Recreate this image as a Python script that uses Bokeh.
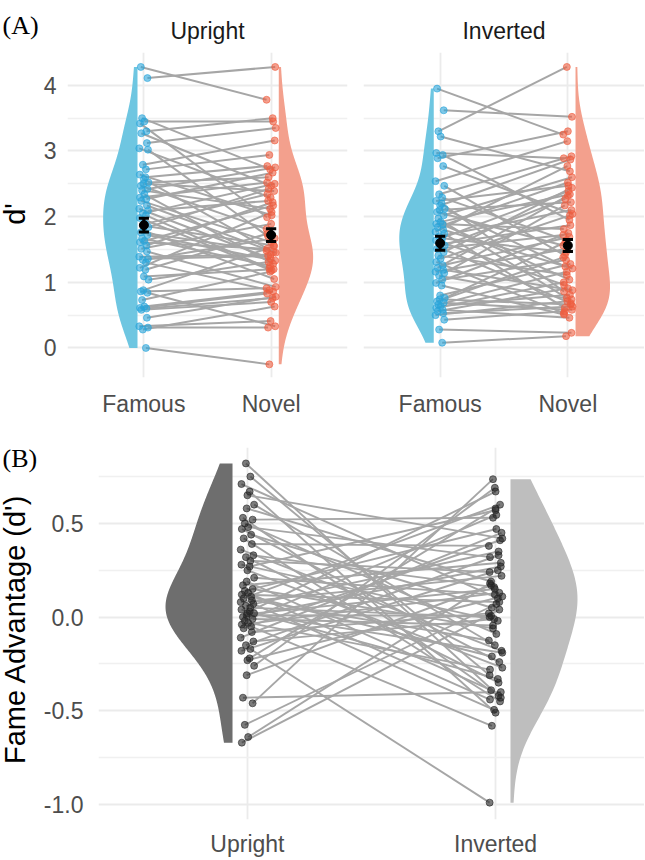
import numpy as np
from bokeh.plotting import figure
from bokeh.layouts import column, row
from bokeh.models import FixedTicker, NumeralTickFormatter, Range1d
from bokeh.core.properties import value
from bokeh.embed import file_html
from bokeh.resources import INLINE

# ---------------- data ----------------
A_CATS = ["Famous", "Novel"]
B_CATS = ["Upright", "Inverted"]
FACETS = ["Upright", "Inverted"]
A_YLABEL = "d'"
B_YLABEL = "Fame Advantage (d')"
TAGS = ["(A)", "(B)"]

UP_FAMOUS = [4.28, 4.11, 3.50, 3.45, 3.42, 3.30, 3.27, 3.12, 3.04, 3.02, 2.79, 2.72, 2.64, 2.60, 2.57, 2.52,
             2.50, 2.47, 2.42, 2.40, 2.34, 2.29, 2.27, 2.24, 2.17, 2.12, 2.09, 2.05, 2.02, 1.98, 1.89, 1.86,
             1.84, 1.79, 1.76, 1.72, 1.67, 1.63, 1.61, 1.56, 1.51, 1.47, 1.39, 1.36, 1.34, 1.30, 1.22, 1.19,
             1.09, 1.04, 0.88, 0.86, 0.84, 0.73, 0.63, 0.61, 0.60, 0.58, 0.46, 0.33, 0.31, 0.28, 0.00]
UP_NOVEL = [3.78, 4.28, 2.72, 3.45, 1.99, 3.50, 2.47, 3.35, 2.29, 1.70, 3.16, 2.94, 2.02, 2.77, 1.46, 2.60,
            2.39, 1.81, 2.75, 2.12, 1.28, 2.52, 2.67, 1.61, 1.45, 1.36, 2.24, 2.50, 1.21, 1.18, 2.34, 1.56,
            2.42, 1.05, 1.48, 1.33, 1.25, 2.17, 1.51, 2.22, 1.89, 0.93, 1.42, 1.40, 1.67, 0.88, 2.07, 1.74,
            1.20, 1.31, 1.55, 0.91, 0.33, 1.16, 0.86, 0.83, 0.76, 0.70, 0.78, 0.41, 0.31, 0.63, -0.25]
INV_FAMOUS = [3.95, 3.62, 3.30, 3.22, 2.97, 2.94, 2.89, 2.77, 2.54, 2.47, 2.34, 2.29, 2.24, 2.20, 2.17, 2.12,
              2.10, 2.07, 2.02, 1.97, 1.92, 1.89, 1.88, 1.84, 1.80, 1.77, 1.74, 1.70, 1.67, 1.64, 1.61, 1.58,
              1.56, 1.53, 1.51, 1.46, 1.41, 1.36, 1.31, 1.26, 1.22, 1.19, 1.16, 1.14, 1.10, 1.04, 0.99, 0.95,
              0.80, 0.76, 0.74, 0.71, 0.69, 0.66, 0.64, 0.61, 0.58, 0.56, 0.53, 0.50, 0.43, 0.28, 0.08]
INV_NOVEL = [3.25, 3.52, 4.28, 2.69, 2.89, 1.95, 3.30, 2.04, 3.15, 1.41, 2.92, 1.64, 2.47, 0.86, 2.87, 1.24,
             2.22, 1.56, 2.60, 0.76, 2.34, 1.81, 1.04, 2.52, 1.21, 2.77, 0.61, 2.10, 1.46, 2.39, 0.96, 1.87,
             2.27, 0.68, 1.72, 2.44, 1.11, 2.02, 0.53, 1.69, 2.32, 0.88, 1.51, 2.17, 0.74, 1.34, 1.75, 0.51,
             1.28, 1.61, 0.66, 1.38, 0.58, 1.16, 0.81, 1.00, 0.46, 0.91, 0.63, 0.71, 0.56, 0.23, 0.18]

ADV_UP = [0.82, 0.75, 0.71, 0.67, 0.65, 0.60, 0.58, 0.53, 0.52, 0.50, 0.48, 0.47, 0.44, 0.42, 0.39, 0.36,
          0.33, 0.32, 0.30, 0.28, 0.27, 0.25, 0.21, 0.19, 0.17, 0.15, 0.14, 0.13, 0.12, 0.11, 0.10, 0.09,
          0.08, 0.07, 0.06, 0.05, 0.04, 0.03, 0.02, 0.02, 0.01, 0.00, -0.01, -0.02, -0.03, -0.04, -0.05,
          -0.06, -0.08, -0.11, -0.13, -0.15, -0.17, -0.18, -0.22, -0.23, -0.26, -0.31, -0.43, -0.46,
          -0.575, -0.64, -0.67]
ADV_INV = [-0.42, -0.31, 0.10, -0.51, 0.42, -0.15, 0.19, -0.43, 0.53, -0.09, 0.32, -0.24, 0.05, -0.45,
           0.38, -0.18, 0.16, -0.35, 0.24, -0.02, 0.57, -0.27, 0.12, -0.39, 0.29, -0.06, 0.47, -0.44, 0.08,
           -0.21, 0.60, -0.125, 0.22, -0.495, 0.35, 0.00, -0.33, 0.67, -0.19, 0.15, 0.007, 0.27, -0.045,
           0.545, -0.28, 0.13, -0.58, 0.41, 0.02, 0.45, -0.01, 0.33, -0.99, 0.25, 0.58, 0.11, 0.69, 0.17,
           -0.40, 0.736, 0.07, 0.18, 0.04]

# mean +/- SE shown as black error bars (Famous, Novel)
UP_MEAN = [1.87, 1.72]
UP_SE = [0.105, 0.097]
INV_MEAN = [1.595, 1.56]
INV_SE = [0.105, 0.09]

A_YTICKS = [0, 1, 2, 3, 4]
A_YMINOR = [0.5, 1.5, 2.5, 3.5, 4.5]
B_YTICKS = [-1.0, -0.5, 0.0, 0.5]
B_YMINOR = [-0.75, -0.25, 0.25, 0.75]

# ---------------- style ----------------
FONT = "Liberation Sans"
SERIF = "Liberation Serif"
BLUE_V, BLUE_P = "#6EC6E1", "#2AA5DA"
RED_V, RED_P = "#F3A08D", "#EE5D40"
DARK_V, LIGHT_V, GREY_P = "#6E6E6E", "#BEBEBE", "#252525"
LINE_C = "#A6A6A6"
JIT = [-0.6, 0.5, -0.2, 0.9, 0.1, -0.9, 0.3, 0.7, -0.5, 0.4, -0.1, -0.75, 0.8, 0.0, -0.35, 0.6, -0.8]

A_XR = (0.4, 2.6)
A_YR = (-0.45, 4.5)
B_XR = (0.4, 2.6)
B_YR = (-1.08, 0.905)

TAG_W = 40
A_TOP, A_FRAME, A_BOT = 50, 327, 53
B_TOP, B_FRAME, B_BOT = 17, 375, 37


def jitter(n, amp, phase):
    return np.array([JIT[(i * 7 + phase) % len(JIT)] * amp for i in range(n)])


def half_violin(p, vals, center, side, offset, maxw, color, adjust=1.0):
    v = np.asarray(vals, dtype=float)
    n = len(v)
    sd = v.std(ddof=1)
    iqr = np.percentile(v, 75) - np.percentile(v, 25)
    bw = adjust * 0.9 * min(sd, iqr / 1.34) * n ** -0.2
    ys = np.linspace(v.min(), v.max(), 256)
    dens = np.exp(-0.5 * ((ys[:, None] - v[None, :]) / bw) ** 2).sum(axis=1)
    w = dens / dens.max() * maxw
    base = center + side * offset
    xs = np.concatenate([[base], base + side * w, [base]])
    yy = np.concatenate([[ys[0]], ys, [ys[-1]]])
    p.patch(xs, yy, fill_color=color, line_color=None)


def style(p, yticks, yminor, xlabels, show_y=True, yfmt=None):
    p.outline_line_color = None
    p.background_fill_color = "white"
    p.border_fill_color = "white"
    p.xaxis.ticker = FixedTicker(ticks=[1, 2])
    p.xaxis.major_label_overrides = {1: xlabels[0], 2: xlabels[1]}
    for ax in list(p.xaxis) + list(p.yaxis):
        ax.axis_line_color = None
        ax.major_tick_line_color = None
        ax.minor_tick_line_color = None
        ax.major_tick_out = 0
        ax.major_tick_in = 0
        ax.minor_tick_out = 0
        ax.minor_tick_in = 0
        ax.axis_label_standoff = 0
        ax.major_label_text_font = FONT
        ax.major_label_text_font_size = "23px"
        ax.major_label_text_color = "#4D4D4D"
    p.xaxis.major_label_standoff = 13
    yt = FixedTicker(ticks=yticks, minor_ticks=yminor)
    p.yaxis.ticker = yt
    p.ygrid.ticker = yt
    p.xgrid.ticker = FixedTicker(ticks=[1, 2])
    p.yaxis.major_label_standoff = 11
    if yfmt is not None:
        p.yaxis.formatter = yfmt
    if not show_y:
        p.yaxis.visible = False
    for g in (p.xgrid, p.ygrid):
        g.grid_line_color = "#EBEBEB"
        g.grid_line_width = 1.8
    p.ygrid.minor_grid_line_color = "#F0F0F0"
    p.ygrid.minor_grid_line_width = 1.3


def tag_column(top, frame, bot, tag_title, tag_text, tag_y, ylabel, label_y):
    """Narrow strip left of a panel: panel tag and rotated axis title (y in px from frame top)."""
    p = figure(width=TAG_W, height=top + frame + bot, x_range=Range1d(0, TAG_W),
               y_range=Range1d(frame, 0), output_backend="svg", toolbar_location=None,
               x_axis_location=None, y_axis_location=None, title=tag_title,
               min_border_left=0, min_border_right=0, min_border_top=top, min_border_bottom=bot)
    p.outline_line_color = None
    p.xgrid.visible = False
    p.ygrid.visible = False
    p.title.align = "left"
    p.title.vertical_align = "top"
    p.title.offset = 2
    p.title.text_font = SERIF
    p.title.text_font_size = "26px"
    p.title.text_font_style = "normal"
    p.title.text_color = "black"
    p.title.standoff = 21
    if tag_text:
        p.text(x=[2], y=[tag_y], text=[tag_text], text_font=value(SERIF), text_font_size="26px",
               text_color="black", text_baseline="middle", text_align="left")
    p.text(x=[14], y=[label_y], text=[ylabel], text_font=value(FONT), text_font_size="29px",
           text_color="black", text_baseline="middle", text_align="center", angle=np.pi / 2)
    return p


def facet(title, famous, novel, mean, se, width, lb, rb, show_y):
    p = figure(width=width, height=A_TOP + A_FRAME + A_BOT, x_range=Range1d(*A_XR), y_range=Range1d(*A_YR),
               output_backend="svg", toolbar_location=None, title=title,
               min_border_left=lb, min_border_right=rb, min_border_top=A_TOP, min_border_bottom=A_BOT)
    p.title.align = "center"
    p.title.text_font = FONT
    p.title.text_font_size = "23px"
    p.title.text_font_style = "normal"
    p.title.text_color = "#1A1A1A"
    p.title.standoff = 17
    style(p, A_YTICKS, A_YMINOR, A_CATS, show_y=show_y)
    n = len(famous)
    xf = 1 + jitter(n, 0.04, 0)
    xn = 2 + jitter(n, 0.04, 5)
    half_violin(p, famous, 1, -1, 0.05, 0.27, BLUE_V)
    half_violin(p, novel, 2, 1, 0.06, 0.27, RED_V)
    p.segment(x0=xf, y0=famous, x1=xn, y1=novel, line_color=LINE_C, line_width=2)
    p.scatter(xf, famous, size=7, fill_color=BLUE_P, line_color=BLUE_P, fill_alpha=0.6, line_alpha=0.6)
    p.scatter(xn, novel, size=7, fill_color=RED_P, line_color=RED_P, fill_alpha=0.6, line_alpha=0.6)
    m = np.array(mean)
    s = np.array(se)
    xc = np.array([1.0, 2.0])
    p.segment(x0=xc, y0=m - s, x1=xc, y1=m + s, line_color="black", line_width=3)
    p.segment(x0=xc - 0.04, y0=m + s, x1=xc + 0.04, y1=m + s, line_color="black", line_width=3)
    p.segment(x0=xc - 0.04, y0=m - s, x1=xc + 0.04, y1=m - s, line_color="black", line_width=3)
    p.scatter(xc, m, size=9, color="black")
    return p


tagA = tag_column(A_TOP, A_FRAME, A_BOT, TAGS[0], None, 0, A_YLABEL, A_FRAME / 2 - 1)
pA1 = facet(FACETS[0], UP_FAMOUS, UP_NOVEL, UP_MEAN, UP_SE, 315, 26, 8, True)
pA2 = facet(FACETS[1], INV_FAMOUS, INV_NOVEL, INV_MEAN, INV_SE, 289, 8, 0, False)

# ---------------- panel B ----------------
tagB = tag_column(B_TOP, B_FRAME, B_BOT, "", TAGS[1], 11, B_YLABEL, 183)
pB = figure(width=604, height=B_TOP + B_FRAME + B_BOT, x_range=Range1d(*B_XR), y_range=Range1d(*B_YR),
            output_backend="svg", toolbar_location=None,
            min_border_left=55, min_border_right=0, min_border_top=B_TOP, min_border_bottom=B_BOT)
style(pB, B_YTICKS, B_YMINOR, B_CATS, yfmt=NumeralTickFormatter(format="0.0"))
pB.xaxis.major_label_standoff = 11
pB.yaxis.major_label_standoff = 15
n = len(ADV_UP)
xu = 1 + jitter(n, 0.03, 2)
xi = 2 + jitter(n, 0.03, 9)
half_violin(pB, ADV_UP, 1, -1, 0.06, 0.27, DARK_V, adjust=1.4)
half_violin(pB, ADV_INV, 2, 1, 0.06, 0.27, LIGHT_V, adjust=1.4)
pB.segment(x0=xu, y0=ADV_UP, x1=xi, y1=ADV_INV, line_color=LINE_C, line_width=1.9)
pB.scatter(xu, ADV_UP, size=7, fill_color=GREY_P, line_color=GREY_P, fill_alpha=0.6, line_alpha=0.6)
pB.scatter(xi, ADV_INV, size=7, fill_color=GREY_P, line_color=GREY_P, fill_alpha=0.6, line_alpha=0.6)

layout = column(row(tagA, pA1, pA2), row(tagB, pB))
open("out.html", "w").write(file_html(layout, INLINE))
